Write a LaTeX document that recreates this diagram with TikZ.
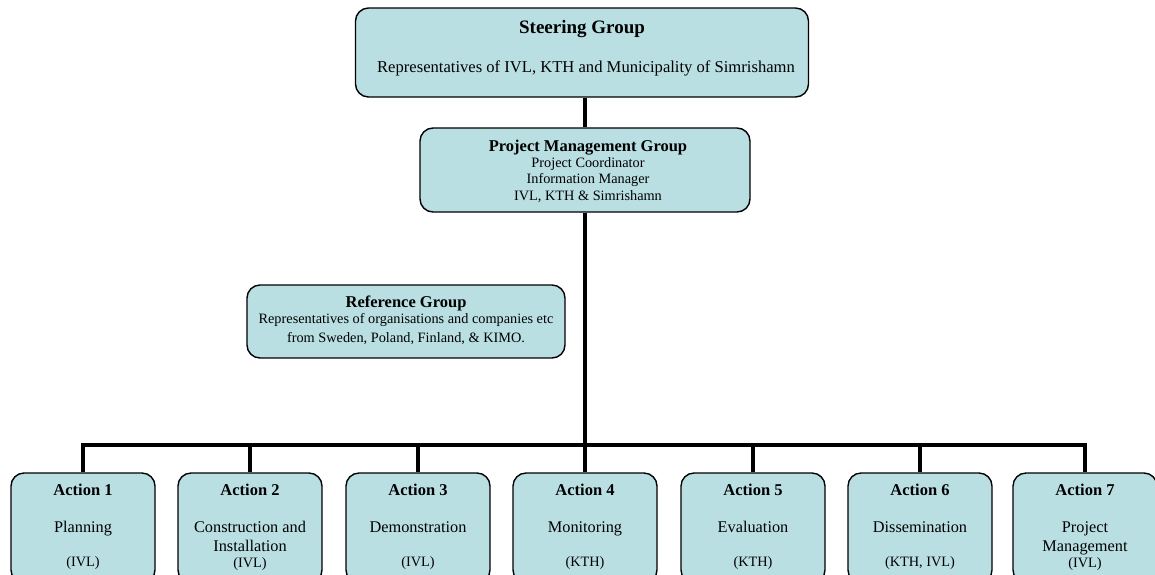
\documentclass[tikz,border=0pt]{standalone}
\usepackage{fontspec}
\setmainfont{Liberation Serif}
\usetikzlibrary{calc}
\definecolor{boxfill}{RGB}{185,223,227}
\begin{document}
\begin{tikzpicture}[x=1pt,y=-1pt,
  box/.style={draw=black, line width=1.4pt, rounded corners=13pt, fill=boxfill, inner sep=0pt},
  conn/.style={line width=4.5pt},
  ttlbig/.style={inner sep=0pt, anchor=base, font=\fontsize{19}{22}\selectfont\bfseries},
  ttl/.style={inner sep=0pt, anchor=base, font=\fontsize{16.5}{19}\selectfont\bfseries},
  body/.style={inner sep=0pt, anchor=base, align=center, font=\fontsize{16.3}{19}\selectfont},
  sgbody/.style={inner sep=0pt, anchor=base, align=center, font=\fontsize{16.6}{19}\selectfont},
  small/.style={inner sep=0pt, anchor=base, align=center, font=\fontsize{14.3}{16.5}\selectfont},
  refbody/.style={inner sep=0pt, anchor=base, align=center, font=\fontsize{14.3}{19}\selectfont}]
\useasboundingbox (0,0) rectangle (1155,574);
\clip (0,0) rectangle (1155,574);

% boxes
\node[box, minimum width=453pt, minimum height=89pt] (sg) at (582,52.5) {};
\node[box, minimum width=330pt, minimum height=84pt] (pmg) at (585,170) {};
\node[box, minimum width=318pt, minimum height=73pt] (ref) at (406,321.5) {};
\foreach \i/\x in {1/83,2/250,3/418,4/585,5/753,6/920,7/1085}
  \node[box, minimum width=144pt, minimum height=110pt] (a\i) at (\x,528) {};

% connectors
\coordinate (bus) at (586,445);
\draw[conn] (pmg.north |- sg.south) -- (pmg.north);
\draw[conn] (pmg.south) -- (pmg.south |- bus);
\draw[conn] ($(ref.east)+(0,8)$) -- ($(ref.east)+(0,8)$ -| pmg.south);
\draw[conn, line cap=rect] (a1.north |- bus) -- (a7.north |- bus);
\foreach \i in {1,...,7}
  \draw[conn] (a\i.north |- bus) -- (a\i.north);

% texts (anchor=base of a multi-line text is the baseline of its last line)
\node[ttlbig] (sgt) at (582,33) {Steering Group};
\node[sgbody] (sgb) at (586,72) {Representatives of IVL, KTH and Municipality of Simrishamn};

\node[ttl] (pmgt) at (588,151) {Project Management Group};
\node[small] (pmgb) at (588,200) {Project Coordinator\\Information Manager\\IVL, KTH \& Simrishamn};

\node[ttl] (reft) at (406,307) {Reference Group};
\node[refbody] (refb) at (406,342) {Representatives of organisations and companies etc\\from Sweden, Poland, Finland, \& KIMO.};

\foreach \i/\x/\what/\y in {1/83/Planning/532,2/250/{Construction and\\Installation}/551,3/418/Demonstration/532,4/585/Monitoring/532,5/753/Evaluation/532,6/920/Dissemination/532,7/1085/{Project\\Management}/551}{
  \node[ttl] (a\i t) at (\x,495) {Action \i};
  \node[body] (a\i b) at (\x,\y) {\what};
}
\foreach \i/\x/\y/\who in {1/83/566/(IVL),2/250/567/(IVL),3/418/566/(IVL),4/585/566/(KTH),5/753/566/(KTH),6/920/566/{(KTH, IVL)},7/1085/567/(IVL)}
  \node[small] (a\i w) at (\x,\y) {\who};
\end{tikzpicture}
\end{document}
